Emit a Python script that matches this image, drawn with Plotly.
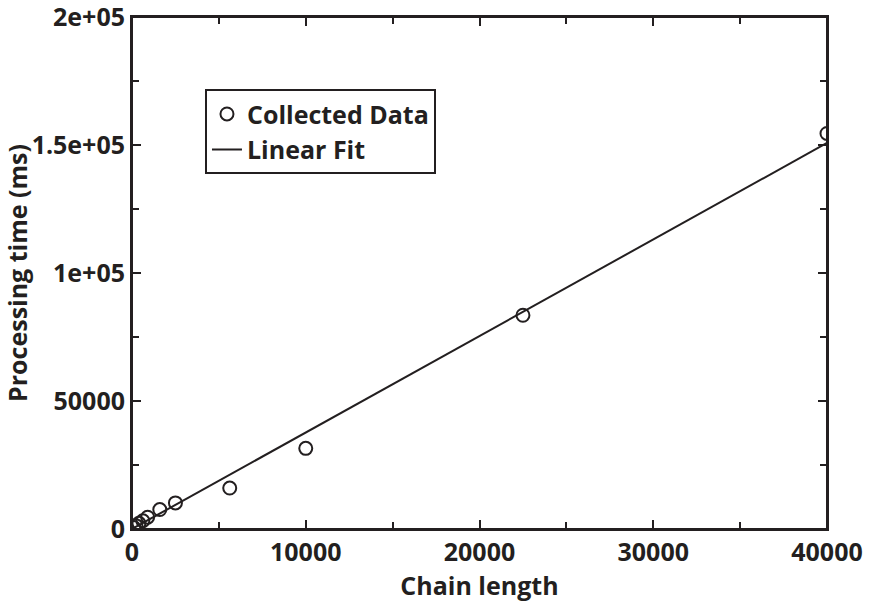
import plotly.graph_objects as go

# ---- data ----
chain_length = [100, 225, 400, 625, 900, 1600, 2500, 5625, 10000, 22500, 40000]
proc_time = [600, 1300, 2200, 3200, 4600, 7600, 10200, 16000, 31500, 83500, 154500]

fit_x = [0, 40000]
fit_slope = 3.77
fit_intercept = 0.0
fit_y = [fit_slope * v + fit_intercept for v in fit_x]

x_tickvals = [0, 10000, 20000, 30000, 40000]
x_ticktext = ["0", "10000", "20000", "30000", "40000"]
y_tickvals = [0, 50000, 100000, 150000, 200000]
y_ticktext = ["0", "50000", "1e+05", "1.5e+05", "2e+05"]

INK = "#231f20"
FONT = dict(family="Open Sans", size=25, color=INK, weight="bold")

fig = go.Figure()
fig.add_trace(go.Scatter(
    x=chain_length, y=proc_time, mode="markers", name="Collected Data",
    marker=dict(symbol="circle-open", size=13, color=INK, line=dict(width=2, color=INK)),
))
fig.add_trace(go.Scatter(
    x=fit_x, y=fit_y, mode="lines", name="Linear Fit",
    line=dict(color=INK, width=2),
))

axis_common = dict(
    showline=True, linecolor=INK, linewidth=2, mirror="ticks",
    ticks="inside", ticklen=9, tickwidth=2, tickcolor=INK,
    showgrid=False, zeroline=False, tickfont=FONT,
    ticklabeloverflow="allow",
)
fig.update_xaxes(
    range=[0, 40000], tickvals=x_tickvals, ticktext=x_ticktext,
    minor=dict(dtick=5000, ticks="inside", ticklen=7, tickwidth=2, tickcolor=INK, showgrid=False),
    title=dict(text="Chain length", font=FONT, standoff=4),
    **axis_common,
)
fig.update_yaxes(
    range=[0, 200000], tickvals=y_tickvals, ticktext=y_ticktext,
    minor=dict(dtick=25000, ticks="inside", ticklen=7, tickwidth=2, tickcolor=INK, showgrid=False),
    title=dict(text="Processing time (ms)", font=FONT, standoff=0),
    **axis_common,
)

fig.add_shape(type="rect", xref="paper", yref="paper", x0=0, y0=0, x1=1, y1=1,
              line=dict(color=INK, width=2), layer="above")

fig.update_layout(
    width=869, height=604,
    margin=dict(l=132, r=42, t=17, b=75, autoexpand=False),
    paper_bgcolor="white", plot_bgcolor="white",
    font=FONT,
    showlegend=True,
    legend=dict(
        x=0.105, y=0.859, xanchor="left", yanchor="top",
        bordercolor=INK, borderwidth=2, bgcolor="white",
        font=dict(family="Open Sans", size=25, color=INK, weight="bold"),
        itemwidth=30, tracegroupgap=0,
    ),
)

fig.write_html("out.html")
